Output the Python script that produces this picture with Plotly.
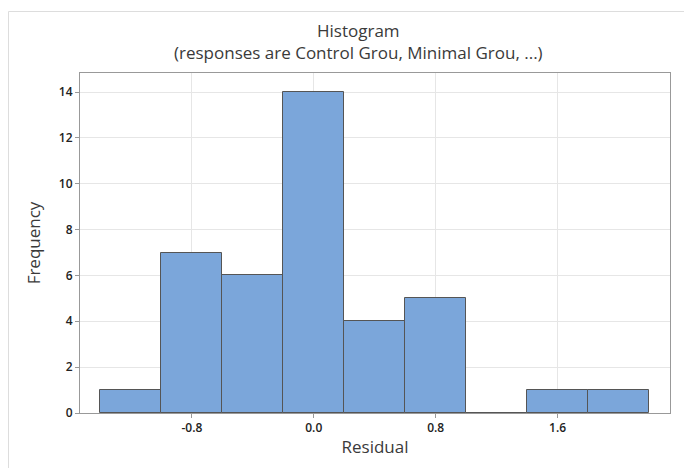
import plotly.graph_objects as go

bin_centers = [-1.2, -0.8, -0.4, 0.0, 0.4, 0.8, 1.2, 1.6, 2.0]
frequencies = [1, 7, 6, 14, 4, 5, 0, 1, 1]
bin_width = 0.4
x_ticks = [-0.8, 0.0, 0.8, 1.6]
x_tick_labels = ["-0.8", "0.0", "0.8", "1.6"]
y_ticks = [0, 2, 4, 6, 8, 10, 12, 14]
title_text = "Histogram"
subtitle_text = "(responses are Control Grou, Minimal Grou, ...)"

# page body has an 8px margin, so the figure is slightly smaller than the window
W, H = 684, 460
ml, mr, mt, mb = 72, 22, 65, 55
pw, ph = W - ml - mr, H - mt - mb


def py(y_px):
    return (H - mb - y_px) / ph


def px(x_px):
    return (x_px - ml) / pw


fig = go.Figure()
fig.add_trace(go.Bar(
    x=bin_centers, y=frequencies, width=[bin_width] * len(bin_centers),
    marker=dict(color="#7BA6DA", line=dict(color="#555555", width=1)),
    hoverinfo="x+y",
))

font = "Open Sans, Noto Sans, sans-serif"
fig.update_layout(
    width=W, height=H,
    margin=dict(l=ml, r=mr, t=mt, b=mb),
    paper_bgcolor="white", plot_bgcolor="white",
    font=dict(family=font, color="#333333"),
    showlegend=False,
    bargap=0,
    xaxis=dict(
        range=[-1.534, 2.338],
        tickvals=x_ticks, ticktext=x_tick_labels,
        ticks="outside", ticklen=4, tickcolor="#999999",
        tickfont=dict(size=12, color="#222222", weight=600),
        showgrid=True, gridcolor="#E6E6E6", gridwidth=1,
        showline=True, linecolor="#999999", linewidth=1, mirror=True,
        zeroline=False,
        title=dict(text="Residual", font=dict(size=17, color="#3A3A3A"), standoff=5),
    ),
    yaxis=dict(
        range=[0, 14.83],
        tickvals=y_ticks,
        ticks="outside", ticklen=4, tickcolor="#999999",
        tickfont=dict(size=12, color="#222222", weight=600),
        showgrid=True, gridcolor="#E6E6E6", gridwidth=1,
        showline=True, linecolor="#999999", linewidth=1, mirror=True,
        zeroline=False,
        title=dict(text="Frequency", font=dict(size=17, color="#3A3A3A"), standoff=13),
    ),
    annotations=[
        dict(text=title_text + "<br>" + subtitle_text,
             xref="paper", yref="paper", x=px(350), y=py(33.5),
             xanchor="center", yanchor="middle", align="center", showarrow=False,
             font=dict(family=font, size=17, color="#3A3A3A")),
    ],
    shapes=[dict(
        type="rect", xref="paper", yref="paper",
        x0=px(0.5), x1=px(W + 10),
        y0=py(H + 10), y1=py(3.5),
        line=dict(color="#DDDDDD", width=1), fillcolor="rgba(0,0,0,0)",
        layer="below",
    )],
)

fig.write_html("out.html")
